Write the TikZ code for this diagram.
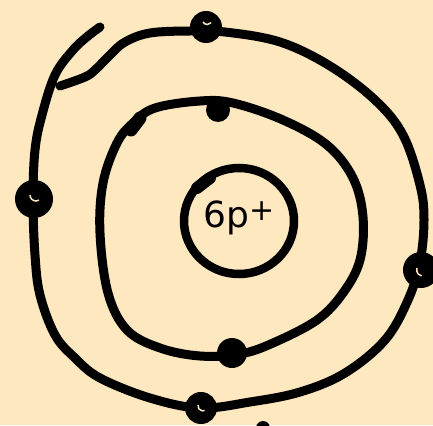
\documentclass[tikz,border=0pt]{standalone}
\usepackage{fontspec}
\setsansfont{DejaVu Sans}
\definecolor{paper}{RGB}{254,232,192}
\begin{document}
\begin{tikzpicture}[x=1pt,y=-1pt,
  orbit/.style={line width=9pt,line cap=round,line join=round},
  eln/.style={circle,fill=black,inner sep=0pt},
  ring/.style={circle,draw=black,line width=4pt,fill=black,inner sep=0pt}]
\useasboundingbox[fill=paper] (0,0) rectangle (433,425);
% outer orbit
\draw[orbit] plot[smooth,tension=0.6] coordinates {
 (100,27) (88,36) (73,50) (55,75) (42,115) (35,150) (33,200) (35,255) (40,295)
 (55,335) (75,358) (100,378) (150,398) (200,408) (250,402) (300,392) (345,373)
 (385,340) (408,300) (420,262) (424,220) (420,185) (403,135) (375,100) (330,66)
 (280,42) (225,32) (190,31) (150,33) (125,42) (110,55) (95,70) (85,77) (60,86)};
% inner orbit
\draw[orbit] plot[smooth cycle,tension=0.6] coordinates {
 (133,123) (155,108) (200,101) (233,103) (283,120) (327,145) (353,178) (363,217)
 (360,260) (343,293) (317,320) (273,343) (240,354) (200,356) (160,348) (127,330)
 (108,293) (100,233) (103,183) (117,143)};
\draw[line width=13pt,line cap=round] (131,130) -- (140,118);
% nucleus
\draw[line width=8.5pt] (239,221) ellipse (55 and 53);
\draw[line width=12pt,line cap=round] (197,188) -- (210,178);
\node (nuc) at (239,218) {\sffamily\fontsize{36}{36}\selectfont 6p\raisebox{0.35ex}{\fontsize{30}{30}\selectfont +}};
% inner electrons
\node[eln,minimum size=24pt] (e1) at (218,110) {};
\node[eln,minimum size=30pt] (e2) at (232,353) {};
% outer electrons
\node[ring,minimum size=28pt] (e3) at (206,27) {};
\node[ring,minimum size=34pt] (e4) at (34,199) {};
\node[ring,minimum size=32pt] (e5) at (421,270) {};
\node[ring,minimum size=28pt] (e6) at (201,408) {};
\draw[paper,line width=1.5pt] (203,22) arc (150:40:5);
\draw[paper,line width=1.5pt] (30,195) arc (180:60:6);
\draw[paper,line width=1.5pt] (417,268) arc (200:100:6);
\draw[paper,line width=1.5pt] (198,405) arc (190:70:5);
\fill (263,428) circle (7);
\end{tikzpicture}
\end{document}
